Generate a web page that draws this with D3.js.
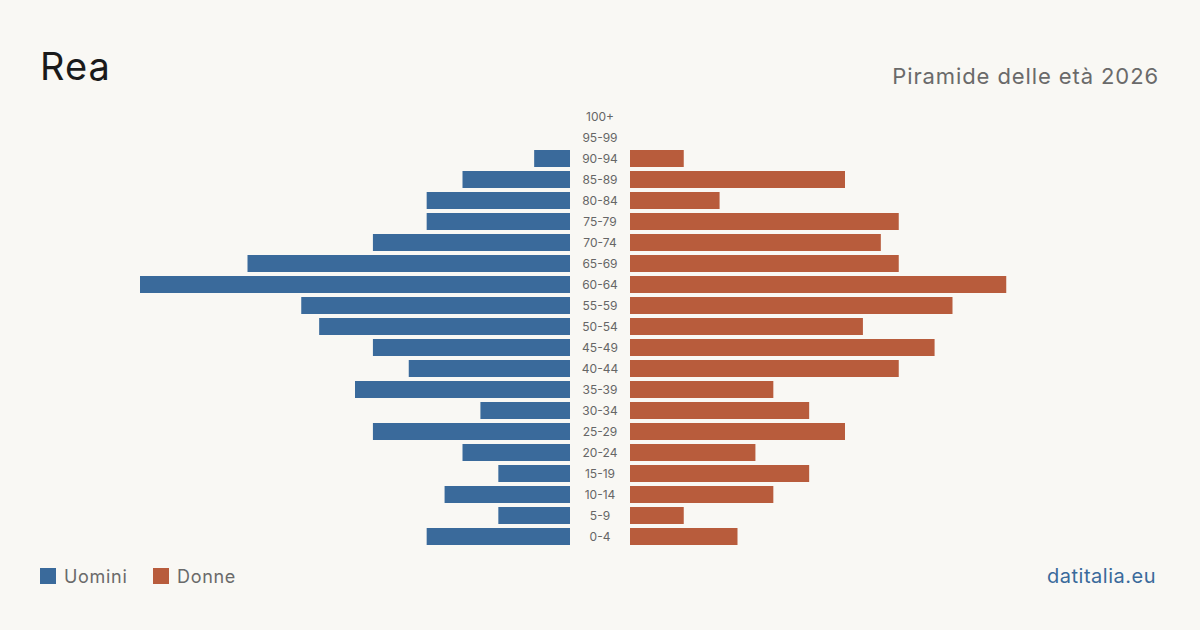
<!DOCTYPE html>
<html>
<head>
<meta charset="utf-8">
<script src="https://cdn.jsdelivr.net/npm/d3@7"></script>
<style>
html,body{margin:0;padding:0;background:#f9f8f4;}
svg{display:block;font-family:Inter,"Noto Sans",sans-serif;}
</style>
</head>
<body>
<svg id="c" width="1200" height="630"></svg>
<script>
const ageGroups = ["100+","95-99","90-94","85-89","80-84","75-79","70-74","65-69","60-64","55-59","50-54","45-49","40-44","35-39","30-34","25-29","20-24","15-19","10-14","5-9","0-4"];
const men   = [0,0,2,6,8,8,11,18,24,15,14,11,9,12,5,11,6,4,7,4,8];
const women = [0,0,3,12,5,15,14,15,21,18,13,17,15,8,10,12,7,10,8,3,6];
const legendLabels = ["Uomini","Donne"];
const colors = ["#3a6a9b","#b85c3c"];

const svg = d3.select("#c");
svg.append("rect").attr("width",1200).attr("height",630).attr("fill","#f9f8f4");

const y = d3.scaleBand().domain(ageGroups).range([106,547]).paddingInner(4/21).paddingOuter(2/21);
const maxV = 24;
const xM = d3.scaleLinear().domain([0,maxV]).range([570,140]);
const xF = d3.scaleLinear().domain([0,maxV]).range([630,1060]);

svg.append("g").selectAll("rect").data(ageGroups).join("rect")
  .attr("x",(d,i)=>xM(men[i])).attr("y",d=>y(d))
  .attr("width",(d,i)=>xM(0)-xM(men[i])).attr("height",y.bandwidth())
  .attr("fill",colors[0]);
svg.append("g").selectAll("rect").data(ageGroups).join("rect")
  .attr("x",xF(0)).attr("y",d=>y(d))
  .attr("width",(d,i)=>xF(women[i])-xF(0)).attr("height",y.bandwidth())
  .attr("fill",colors[1]);

svg.append("g").selectAll("text").data(ageGroups).join("text")
  .attr("x",600).attr("y",d=>y(d)+y.bandwidth()/2)
  .attr("dy","0.35em").attr("text-anchor","middle")
  .attr("font-size",12).attr("fill","#666").text(d=>d);

svg.append("text").attr("x",40).attr("y",80).attr("font-size",38).attr("letter-spacing",1).attr("fill","#1a1a1a").text("Rea");
svg.append("text").attr("x",1159).attr("y",84).attr("text-anchor","end").attr("font-size",22).attr("letter-spacing",0.9).attr("fill","#6a6a6a").text("Piramide delle età 2026");

const lg = svg.append("g");
const lx = [40,153];
legendLabels.forEach((l,i)=>{
  lg.append("rect").attr("x",lx[i]).attr("y",568).attr("width",16).attr("height",16).attr("fill",colors[i]);
  lg.append("text").attr("x",lx[i]+24).attr("y",583).attr("font-size",18).attr("letter-spacing",0.7).attr("fill","#6a6a6a").text(l);
});
svg.append("text").attr("x",1156).attr("y",583).attr("text-anchor","end").attr("font-size",20).attr("letter-spacing",0.5).attr("fill","#3a6a9b").text("datitalia.eu");
</script>
</body>
</html>
